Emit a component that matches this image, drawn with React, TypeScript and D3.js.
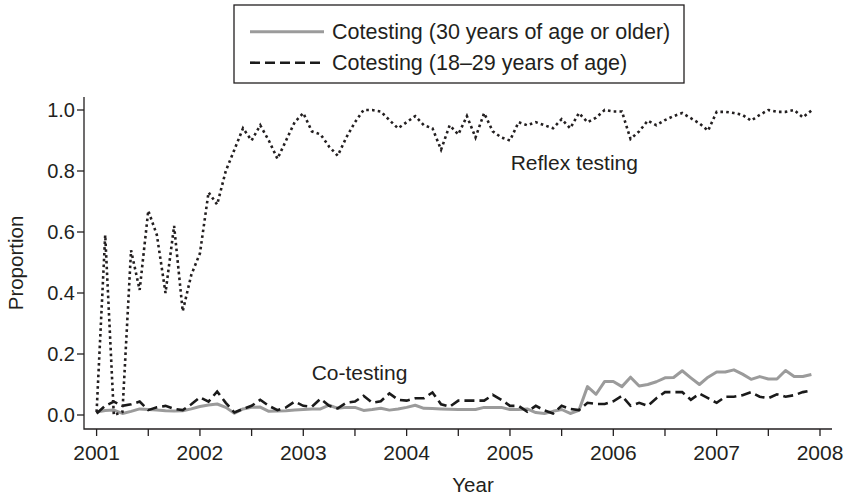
import React from "react";
import * as d3 from "d3";

const width = 844;
const height = 496;
const frame = { left: 84, right: 832, top: 97, bottom: 429 };
const font = "'Liberation Sans', Arial, Helvetica, sans-serif";
const ink = "#231f20";

const startYear = 2001;
const yearTicks = [2001, 2002, 2003, 2004, 2005, 2006, 2007, 2008];
const proportionTicks = [0, 0.2, 0.4, 0.6, 0.8, 1.0];

// monthly proportions, Jan 2001 .. Dec 2007
const reflexTesting = [
  0.01, 0.59, 0.0, 0.01, 0.54, 0.41, 0.67, 0.59, 0.4, 0.62, 0.34, 0.46,
  0.53, 0.73, 0.69, 0.8, 0.87, 0.94, 0.9, 0.95, 0.9, 0.84, 0.9, 0.96,
  0.99, 0.93, 0.92, 0.88, 0.85, 0.91, 0.96, 1.0, 1.0, 0.995, 0.967, 0.94,
  0.96, 0.98, 0.95, 0.94, 0.87, 0.95, 0.92, 0.98, 0.91, 0.99, 0.93, 0.91,
  0.9, 0.96, 0.95, 0.96, 0.95, 0.94, 0.97, 0.94, 0.99, 0.96, 0.975, 1.0,
  0.995, 0.995, 0.905, 0.93, 0.965, 0.95, 0.967, 0.98, 0.99, 0.973, 0.956, 0.932,
  0.994, 0.994, 0.99, 0.984, 0.965, 0.984, 1.0, 0.994, 0.994, 1.0, 0.976, 0.998,
];

const cotesting30Plus = [
  0.01, 0.015, 0.016, 0.005, 0.012, 0.02, 0.018, 0.016, 0.014, 0.013, 0.014, 0.02,
  0.028, 0.033, 0.036, 0.025, 0.006, 0.02, 0.025, 0.026, 0.012, 0.013, 0.014, 0.016,
  0.018, 0.02, 0.02, 0.032, 0.022, 0.025, 0.025, 0.015, 0.018, 0.022, 0.016, 0.02,
  0.025, 0.032, 0.022, 0.021, 0.02, 0.019, 0.018, 0.018, 0.018, 0.025, 0.025, 0.025,
  0.018, 0.018, 0.02, 0.008, 0.005, 0.012, 0.018, 0.005, 0.015, 0.093, 0.068, 0.11,
  0.11, 0.093, 0.124, 0.095, 0.1, 0.109, 0.122, 0.123, 0.145, 0.122, 0.1, 0.124,
  0.141, 0.141, 0.148, 0.134, 0.117, 0.126, 0.118, 0.118, 0.146, 0.126, 0.126, 0.133,
];

const cotesting18to29 = [
  0.005, 0.03, 0.044, 0.03, 0.035, 0.044, 0.016, 0.025, 0.03, 0.02, 0.016, 0.035,
  0.058, 0.044, 0.077, 0.04, 0.008, 0.02, 0.03, 0.05, 0.03, 0.016, 0.025, 0.044,
  0.03, 0.027, 0.053, 0.03, 0.022, 0.04, 0.044, 0.063, 0.04, 0.045, 0.071, 0.05,
  0.047, 0.055, 0.055, 0.074, 0.035, 0.027, 0.047, 0.047, 0.047, 0.047, 0.066, 0.05,
  0.03, 0.03, 0.011, 0.03, 0.015, 0.005, 0.03, 0.02, 0.016, 0.04, 0.036, 0.036,
  0.045, 0.063, 0.03, 0.04, 0.03, 0.055, 0.075, 0.075, 0.075, 0.05, 0.07, 0.055,
  0.04, 0.06, 0.06, 0.065, 0.075, 0.06, 0.055, 0.068, 0.06, 0.065, 0.075, 0.08,
];

const x = d3.scaleLinear().domain([2001, 2008]).range([96.6, 820]);
const y = d3.scaleLinear().domain([0, 1]).range([415, 110]);

const line = d3
  .line<number>()
  .x((d, i) => x(startYear + i / 12))
  .y((d) => y(d));

const halfYearTicks = d3.range(2001, 2008.01, 0.5);

export default function App() {
  return (
    <svg
      width={width}
      height={height}
      style={{ position: "absolute", left: 0, top: 0, background: "#fff" }}
      fontFamily={font}
      fill={ink}
    >
      {/* legend */}
      <rect x={234} y={5} width={450} height={78} fill="none" stroke={ink} strokeWidth={1.3} />
      <line x1={250} x2={324} y1={31.7} y2={31.7} stroke="#9b9b9b" strokeWidth={3} />
      <text x={332} y={39} fontSize={21.5}>Cotesting (30 years of age or older)</text>
      <line x1={250} x2={324} y1={62.7} y2={62.7} stroke="#1a1a1a" strokeWidth={2.6} strokeDasharray="10,5" />
      <text x={332} y={70} fontSize={21.5}>Cotesting (18–29 years of age)</text>

      {/* axes */}
      <path
        d={`M${frame.left},${frame.top}V${frame.bottom}H${frame.right}`}
        fill="none"
        stroke={ink}
        strokeWidth={1.3}
      />
      {proportionTicks.map((t) => (
        <g key={t} transform={`translate(0, ${y(t)})`}>
          <line x1={frame.left - 7} x2={frame.left} stroke={ink} strokeWidth={1.3} />
          <text x={75} dy=".35em" textAnchor="end" fontSize={20}>
            {t.toFixed(1)}
          </text>
        </g>
      ))}
      {halfYearTicks.map((t) => (
        <line
          key={t}
          x1={x(t)}
          x2={x(t)}
          y1={frame.bottom}
          y2={frame.bottom + 7}
          stroke={ink}
          strokeWidth={1.3}
        />
      ))}
      {yearTicks.map((t) => (
        <text key={t} x={x(t)} y={460} textAnchor="middle" fontSize={21}>
          {t}
        </text>
      ))}
      <text x={473} y={492} textAnchor="middle" fontSize={20.5}>Year</text>
      <text transform="translate(23, 263) rotate(-90)" textAnchor="middle" fontSize={20.5}>
        Proportion
      </text>

      {/* series */}
      <path d={line(cotesting30Plus) ?? ""} fill="none" stroke="#9b9b9b" strokeWidth={3} strokeLinejoin="round" />
      <path d={line(cotesting18to29) ?? ""} fill="none" stroke="#1a1a1a" strokeWidth={2.6} strokeDasharray="10,5" />
      <path d={line(reflexTesting) ?? ""} fill="none" stroke={ink} strokeWidth={2.6} strokeDasharray="2.6,3.2" />

      <text x={510.7} y={170} fontSize={21}>Reflex testing</text>
      <text x={311.7} y={379.5} fontSize={21}>Co-testing</text>
    </svg>
  );
}
